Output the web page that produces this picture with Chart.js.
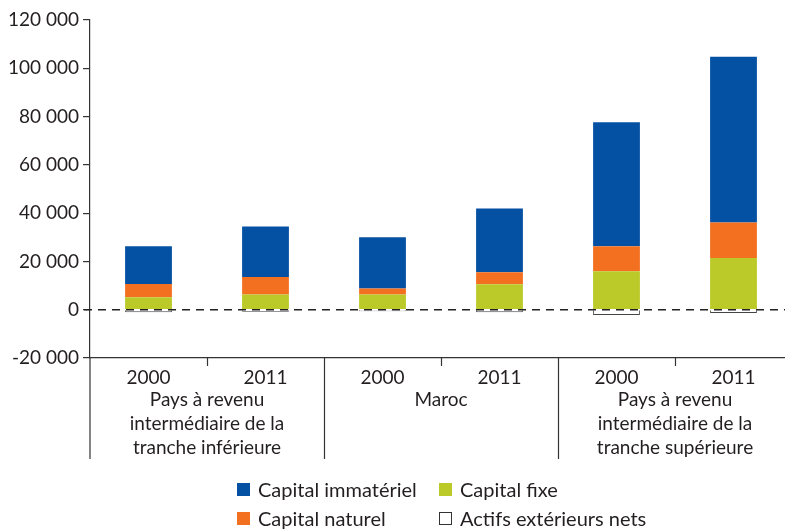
<!DOCTYPE html>
<html>
<head>
<meta charset="utf-8">
<script src="https://cdn.jsdelivr.net/npm/chart.js@4"></script>
<style>
  html, body { margin: 0; padding: 0; background: #fff; overflow: hidden; }
  #wrap { position: absolute; left: 0; top: 0; width: 800px; height: 529px; }
  .leg { position: absolute; font-family: Lato, sans-serif; font-size: 20px; color: #231f20; white-space: nowrap; line-height: 20px; }
  .leg i { position: absolute; left: -21px; top: 4px; width: 13px; height: 13px; box-sizing: border-box; }
</style>
</head>
<body>
<div id="wrap"><canvas id="chart"></canvas></div>
<div id="legend"></div>
<script>
// Data (values in the chart's units)
const years = ['2000', '2011', '2000', '2011', '2000', '2011'];
const groups = [
    ['Pays à revenu', 'intermédiaire de la', 'tranche inférieure'],
    ['Maroc'],
    ['Pays à revenu', 'intermédiaire de la', 'tranche supérieure']
];
const capitalFixe = [5200, 6300, 6300, 10550, 15950, 21450];
const capitalNaturel = [5500, 7300, 2500, 4950, 10350, 14650];
const capitalImmateriel = [15600, 20850, 21200, 26400, 51300, 68700];
const actifsExterieurs = [-1000, -800, -650, -1000, -2200, -1400];
const yTicks = [-20000, 0, 20000, 40000, 60000, 80000, 100000, 120000];

const textColor = '#231f20';
const axisColor = '#333';
const fontFamily = 'Lato, sans-serif';

// Separators, zero line and group names under the axis
const extras = {
    id: 'extras',
    afterDatasetsDraw(chart) {
        const ctx = chart.ctx;
        const y = chart.scales.y;
        const area = chart.chartArea;
        const y0 = y.getPixelForValue(0);
        ctx.save();
        ctx.strokeStyle = '#222';
        ctx.lineWidth = 1.5;
        ctx.setLineDash([8, 6]);
        ctx.beginPath();
        ctx.moveTo(area.left - 6, y0);
        ctx.lineTo(chart.width, y0);
        ctx.stroke();
        ctx.restore();
    },
    afterDraw(chart) {
        const ctx = chart.ctx;
        const x = chart.scales.x;
        const area = chart.chartArea;
        const bottom = area.bottom;
        const step = x.getPixelForValue(1) - x.getPixelForValue(0);
        ctx.save();
        ctx.strokeStyle = axisColor;
        ctx.lineWidth = 1.2;
        // left axis continues down through the label block
        ctx.beginPath();
        ctx.moveTo(area.left, bottom);
        ctx.lineTo(area.left, 459);
        ctx.stroke();
        for (let i = 1; i < years.length; i++) {
            const px = Math.round(x.getPixelForValue(i) - step / 2) + 0.5;
            ctx.beginPath();
            ctx.moveTo(px, bottom);
            ctx.lineTo(px, i % 2 === 0 ? 459 : bottom + 8);
            ctx.stroke();
        }
        ctx.fillStyle = textColor;
        ctx.font = '19px ' + fontFamily;
        ctx.textAlign = 'center';
        ctx.textBaseline = 'middle';
        groups.forEach(function(lines, g) {
            const cx = (x.getPixelForValue(2 * g) + x.getPixelForValue(2 * g + 1)) / 2;
            lines.forEach(function(line, k) {
                ctx.fillText(line, cx, 400 + k * 24);
            });
        });
        ctx.restore();
    }
};

const datasets = [
    { label: 'Capital fixe', data: capitalFixe, backgroundColor: '#bbca28' },
    { label: 'Capital naturel', data: capitalNaturel, backgroundColor: '#f37021' },
    { label: 'Capital immatériel', data: capitalImmateriel, backgroundColor: '#0450a2' },
    { label: 'Actifs extérieurs nets', data: actifsExterieurs, backgroundColor: '#ffffff', borderColor: '#444', borderWidth: 1 }
];

new Chart(document.getElementById('chart'), {
    type: 'bar',
    data: { labels: years, datasets: datasets },
    options: {
        responsive: true,
        maintainAspectRatio: false,
        animation: false,
        layout: { padding: { top: 20, right: 8, left: 0, bottom: 0 } },
        datasets: { bar: { barPercentage: 0.4, categoryPercentage: 1 } },
        plugins: { legend: { display: false }, tooltip: { enabled: false } },
        scales: {
            x: {
                stacked: true,
                grid: { display: false },
                border: { display: true, color: axisColor, width: 1.2 },
                ticks: { color: textColor, font: { family: fontFamily, size: 19 }, padding: 0 },
                afterFit: function(scale) { scale.height = 171; }
            },
            y: {
                stacked: true,
                min: -20000,
                max: 120000,
                afterBuildTicks: function(scale) {
                    scale.ticks = yTicks.map(function(v) { return { value: v }; });
                },
                grid: { drawOnChartArea: false, drawTicks: true, tickLength: 7, color: axisColor, lineWidth: 1.2 },
                border: { display: true, color: axisColor, width: 1.2 },
                ticks: {
                    color: textColor,
                    font: { family: fontFamily, size: 19 },
                    padding: 4,
                    callback: function(v) {
                        return String(v).replace(/\B(?=(\d{3})+(?!\d))/g, ' ');
                    }
                },
                afterFit: function(scale) { scale.width = 90; }
            }
        }
    },
    plugins: [extras]
});

// Legend, two columns like the original
const legendItems = [
    { ds: 2, left: 258, top: 479 },
    { ds: 0, left: 460, top: 479 },
    { ds: 1, left: 258, top: 508 },
    { ds: 3, left: 460, top: 508 }
];
const legend = document.getElementById('legend');
legendItems.forEach(function(item) {
    const ds = datasets[item.ds];
    const div = document.createElement('div');
    div.className = 'leg';
    div.style.left = item.left + 'px';
    div.style.top = item.top + 'px';
    const box = document.createElement('i');
    box.style.background = ds.backgroundColor;
    if (ds.borderColor) box.style.border = '1px solid #333';
    div.appendChild(box);
    div.appendChild(document.createTextNode(ds.label));
    legend.appendChild(div);
});
</script>
</body>
</html>
